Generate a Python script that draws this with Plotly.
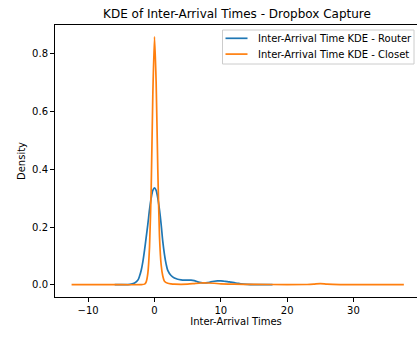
import plotly.graph_objects as go

# Kernel density estimates of inter-arrival times (seconds) for two capture points
router_x = [-6.0, -4.0, -3.5, -3.0, -2.5, -2.25, -2.0, -1.75, -1.5, -1.25, -1.0, -0.75, -0.5, -0.25,
            0.0, 0.25, 0.5, 0.75, 1.0, 1.25, 1.5, 1.75, 2.0, 2.5, 3.0, 3.5, 4.0, 4.5, 5.0,
            5.5, 6.0, 6.5, 7.0, 7.5, 8.0, 8.5, 9.0, 9.5, 10.0, 10.5, 11.0, 11.5, 12.0,
            12.5, 13.0, 14.0, 15.0, 16.0, 17.8]
router_density = [0.0, 0.0005, 0.002, 0.006, 0.016, 0.03, 0.05, 0.08, 0.12, 0.165, 0.21, 0.26, 0.30, 0.327,
                  0.336, 0.327, 0.30, 0.26, 0.21, 0.15, 0.105, 0.072, 0.05, 0.032, 0.023, 0.019, 0.017, 0.016, 0.016,
                  0.016, 0.014, 0.010, 0.007, 0.006, 0.007, 0.010, 0.012, 0.013, 0.013, 0.012, 0.011, 0.009, 0.007,
                  0.005, 0.003, 0.0012, 0.0004, 0.0001, 0.0]

closet_x = [-12.5, -6.0, -2.0, -1.5, -1.25, -1.0, -0.75, -0.5, -0.25, 0.0, 0.25, 0.5, 0.75, 1.0,
            1.25, 1.5, 2.0, 2.5, 3.0, 5.0, 6.0, 7.0, 8.0, 9.0, 10.0, 12.0, 15.0, 20.0, 23.0,
            24.0, 25.0, 26.0, 28.0, 37.6]
closet_density = [0.0, 0.0, 0.0003, 0.002, 0.01, 0.04, 0.13, 0.33, 0.66, 0.86, 0.70, 0.40, 0.17, 0.07,
                  0.03, 0.012, 0.005, 0.003, 0.002, 0.002, 0.004, 0.006, 0.006, 0.005, 0.003, 0.002, 0.001, 0.0005, 0.0008,
                  0.002, 0.004, 0.002, 0.0003, 0.0]

series_names = ["Inter-Arrival Time KDE - Router", "Inter-Arrival Time KDE - Closet"]
series_colors = ["#1f77b4", "#ff7f0e"]

x_ticks = [-10, 0, 10, 20, 30]
y_ticks = [0.0, 0.2, 0.4, 0.6, 0.8]

FONT = "DejaVu Sans"
W, H = 417, 339
PLOT_L, PLOT_R, PLOT_T, PLOT_B = 55, 417, 25, 297


def px_x(px):
    """Pixel column -> paper fraction of the plot area."""
    return (px - PLOT_L) / (PLOT_R - PLOT_L)


def px_y(py):
    """Pixel row -> paper fraction of the plot area."""
    return (PLOT_B - py) / (PLOT_B - PLOT_T)


fig = go.Figure()
for xs, ys, name, color, smooth in [
    (router_x, router_density, series_names[0], series_colors[0], 0.8),
    (closet_x, closet_density, series_names[1], series_colors[1], 0.6),
]:
    fig.add_trace(go.Scatter(
        x=xs, y=ys, mode="lines", name=name,
        line=dict(color=color, width=1.7, shape="spline", smoothing=smooth),
    ))

# Matplotlib-style legend box in the upper right corner
shapes = [dict(
    type="rect", xref="paper", yref="paper",
    x0=px_x(222.5), x1=px_x(414), y0=px_y(64), y1=px_y(30),
    fillcolor="rgba(255,255,255,0.8)", line=dict(color="#cccccc", width=1),
    layer="above",
)]
annotations = []
for i, (name, color) in enumerate(zip(series_names, series_colors)):
    row_y = 38.3 + 15.8 * i
    shapes.append(dict(
        type="line", xref="paper", yref="paper",
        x0=px_x(225.5), x1=px_x(247.5), y0=px_y(row_y), y1=px_y(row_y),
        line=dict(color=color, width=1.7), layer="above",
    ))
    annotations.append(dict(
        text=name, xref="paper", yref="paper",
        x=px_x(255.5), y=px_y(row_y), xanchor="left", yanchor="middle",
        showarrow=False, font=dict(family=FONT, size=10, color="black"),
    ))

fig.update_layout(
    width=W, height=H,
    margin=dict(l=PLOT_L, r=W - PLOT_R, t=PLOT_T, b=H - PLOT_B),
    paper_bgcolor="white", plot_bgcolor="white",
    font=dict(family=FONT, size=10, color="black"),
    title=dict(text="KDE of Inter-Arrival Times - Dropbox Capture",
               x=237 / W, xanchor="center", xref="container",
               y=1 - 14 / H, yanchor="middle", yref="container",
               font=dict(family=FONT, size=12, color="black")),
    showlegend=False,
    shapes=shapes,
    annotations=annotations,
    xaxis=dict(
        range=[-15.0, 39.58], tickvals=x_ticks, ticks="outside", ticklen=4,
        tickcolor="black", showline=True, linecolor="black", linewidth=1,
        mirror=True, showgrid=False, zeroline=False,
        title=dict(text="Inter-Arrival Times", standoff=2,
                   font=dict(family=FONT, size=10, color="black")),
    ),
    yaxis=dict(
        range=[-0.0426, 0.9004], tickvals=y_ticks, tickformat=".1f",
        ticks="outside", ticklen=4, tickcolor="black",
        showline=True, linecolor="black", linewidth=1,
        showgrid=False, zeroline=False,
        title=dict(text="Density", standoff=4,
                   font=dict(family=FONT, size=10, color="black")),
    ),
)

fig.write_html("out.html")
